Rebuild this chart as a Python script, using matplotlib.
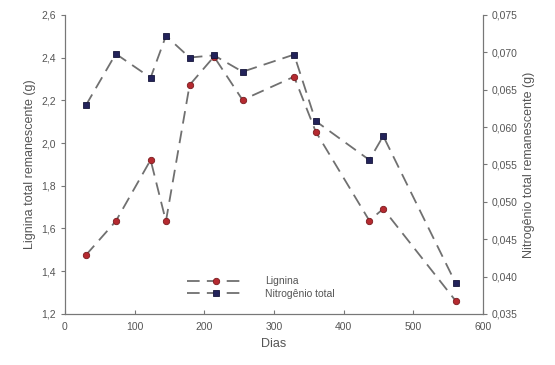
import matplotlib
matplotlib.use('Agg')
import matplotlib.pyplot as plt
from matplotlib.ticker import FuncFormatter

# dias de coleta
dias = [30, 73, 123, 145, 179, 214, 255, 329, 360, 437, 457, 561]
# lignina total remanescente (g)
lignina = [1.475, 1.634, 1.921, 1.634, 2.272, 2.405, 2.202, 2.311, 2.054, 1.637, 1.692, 1.261]
# nitrogenio total remanescente (g)
nitrogenio = [0.0629, 0.0698, 0.0666, 0.0722, 0.0693, 0.0696, 0.0674, 0.0697, 0.0608, 0.0556, 0.0588, 0.0391]

cinza = '#555555'
plt.rcParams['font.family'] = 'Liberation Sans'
plt.rcParams['text.color'] = cinza

fig = plt.figure(figsize=(5.55, 3.65), dpi=100)
ax = fig.add_axes([0.117, 0.140, 0.753, 0.819])
ax2 = ax.twinx()

l1, = ax.plot(dias, lignina, color='#707070', ls=(0, (7, 4)), lw=1.3,
              marker='o', ms=4.6, mfc='#b52a30', mec='#7a1a1e', mew=0.6, label='Lignina')
l2, = ax2.plot(dias, nitrogenio, color='#707070', ls=(0, (7, 4)), lw=1.3,
               marker='s', ms=4.8, mfc='#23235a', mec='#15153a', mew=0.6, label='Nitrogênio total')

ax.set_xlim(0, 600)
ax.set_ylim(1.2, 2.6)
ax2.set_ylim(0.035, 0.075)
ax.set_xticks(range(0, 601, 100))
ax.set_yticks([1.2, 1.4, 1.6, 1.8, 2.0, 2.2, 2.4, 2.6])
ax2.set_yticks([0.035, 0.040, 0.045, 0.050, 0.055, 0.060, 0.065, 0.070, 0.075])

ax.yaxis.set_major_formatter(FuncFormatter(lambda v, p: ('%.1f' % v).replace('.', ',')))
ax2.yaxis.set_major_formatter(FuncFormatter(lambda v, p: ('%.3f' % v).replace('.', ',')))

for a in (ax, ax2):
    for s in a.spines.values():
        s.set_color('#777777')
    a.spines['top'].set_visible(False)
    a.tick_params(colors='#777777', labelcolor=cinza, labelsize=7.5, length=3)
ax.tick_params(axis='x', direction='in', pad=6)

ax.set_xlabel('Dias', fontsize=9, color=cinza)
ax.set_ylabel('Lignina total remanescente (g)', fontsize=9, color=cinza)
ax2.set_ylabel('Nitrogênio total remanescente (g)', fontsize=9, color=cinza)

ax.legend([l1, l2], ['Lignina', 'Nitrogênio total'], loc='lower left',
          bbox_to_anchor=(0.27, 0.02), frameon=False, fontsize=7.5,
          handlelength=5.5, labelspacing=0.2, handletextpad=2.0)

fig.savefig('out.png', dpi=100)
